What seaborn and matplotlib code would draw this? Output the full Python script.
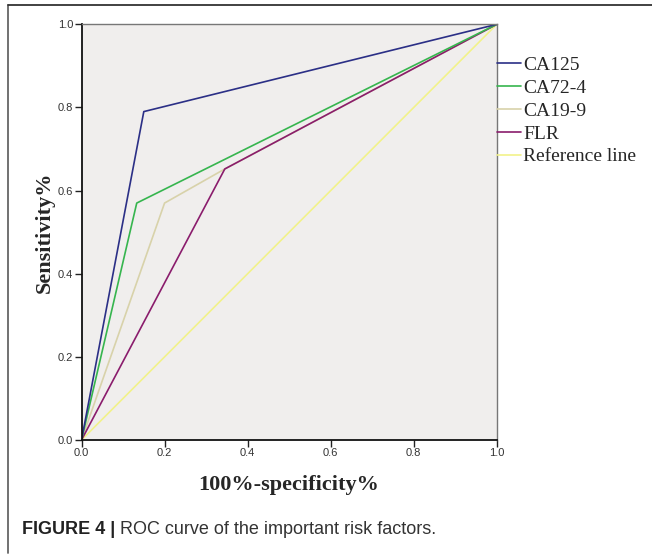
import matplotlib
matplotlib.use("Agg")
import matplotlib.pyplot as plt
from matplotlib.lines import Line2D
import pandas as pd
import seaborn as sns

# ---- data ----
series_names = ["CA125", "CA72-4", "CA19-9", "FLR", "Reference line"]
ca125_x = [0.0, 0.15, 1.0]
ca125_y = [0.0, 0.79, 1.0]
ca724_x = [0.0, 0.133, 1.0]
ca724_y = [0.0, 0.57, 1.0]
ca199_x = [0.0, 0.20, 0.345, 1.0]
ca199_y = [0.0, 0.57, 0.652, 1.0]
flr_x = [0.0, 0.345, 1.0]
flr_y = [0.0, 0.652, 1.0]
ref_x = [0.0, 1.0]
ref_y = [0.0, 1.0]
tick_values = [0.0, 0.2, 0.4, 0.6, 0.8, 1.0]
tick_labels = ["0.0", "0.2", "0.4", "0.6", "0.8", "1.0"]

colors = {
    "CA125": "#2b2f86",
    "CA72-4": "#36b54e",
    "CA19-9": "#d8d2aa",
    "FLR": "#8a1c6c",
    "Reference line": "#f2f28a",
}
xs = {"CA125": ca125_x, "CA72-4": ca724_x, "CA19-9": ca199_x, "FLR": flr_x, "Reference line": ref_x}
ys = {"CA125": ca125_y, "CA72-4": ca724_y, "CA19-9": ca199_y, "FLR": flr_y, "Reference line": ref_y}

sns.set_theme(style="white")
plt.rcParams["font.family"] = ["Liberation Sans", "DejaVu Sans"]

fig = plt.figure(figsize=(6.52, 5.56), dpi=100)
ax = fig.add_axes([0.125, 0.2086, 0.637, 0.7477])
ax.set_facecolor("#f0eeed")

draw_order = ["Reference line", "CA19-9", "FLR", "CA72-4", "CA125"]
for name in draw_order:
    df = pd.DataFrame({"x": xs[name], "y": ys[name]})
    sns.lineplot(data=df, x="x", y="y", sort=False, estimator=None,
                 color=colors[name], linewidth=1.2, ax=ax)

ax.set_xlim(0, 1)
ax.set_ylim(0, 1)
ax.set_xticks(tick_values)
ax.set_xticklabels(tick_labels)
ax.set_yticks(tick_values)
ax.set_yticklabels(tick_labels)
ax.tick_params(axis="both", direction="out", length=5, width=1.0, color="#222222",
               labelsize=8, labelcolor="#333333", pad=1)
ax.tick_params(bottom=True, left=True, top=False, right=False)

for s in ["left", "bottom"]:
    ax.spines[s].set_color("#111111")
    ax.spines[s].set_linewidth(1.3)
for s in ["top", "right"]:
    ax.spines[s].set_color("#777777")
    ax.spines[s].set_linewidth(1.0)

ax.set_xlabel("100%-specificity%", fontsize=16, fontweight="bold",
              family=["Liberation Serif", "DejaVu Serif"], labelpad=12)
ax.set_ylabel("Sensitivity%", fontsize=16, fontweight="bold",
              family=["Liberation Serif", "DejaVu Serif"], labelpad=2)

handles = [Line2D([0], [0], color=colors[n], linewidth=1.2) for n in series_names]
ax.legend(handles, series_names, loc="upper left", bbox_to_anchor=(1.0, 0.923),
          frameon=False, borderaxespad=0, borderpad=0, handlelength=1.25,
          handletextpad=0.1, labelspacing=0.27,
          prop={"family": "Liberation Serif", "size": 14})

# outer frame lines
W, H = 652.0, 556.0
fig.add_artist(Line2D([8 / W, 8 / W], [1 - 5 / H, 1 - 553 / H], color="#666666", linewidth=1.3,
                      transform=fig.transFigure))
fig.add_artist(Line2D([8 / W, 1.0], [1 - 5 / H, 1 - 5 / H], color="#333333", linewidth=1.3,
                      transform=fig.transFigure))

# caption
t1 = fig.text(22 / W, 1 - 530 / H, "FIGURE 4 | ", fontsize=13, fontweight="bold",
              color="#222222", va="center", ha="left")
fig.canvas.draw()
bb = t1.get_window_extent()
fig.text(bb.x1 / W, 1 - 530 / H, "ROC curve of the important risk factors.", fontsize=13,
         color="#333333", va="center", ha="left")

fig.savefig("out.png", dpi=100)
